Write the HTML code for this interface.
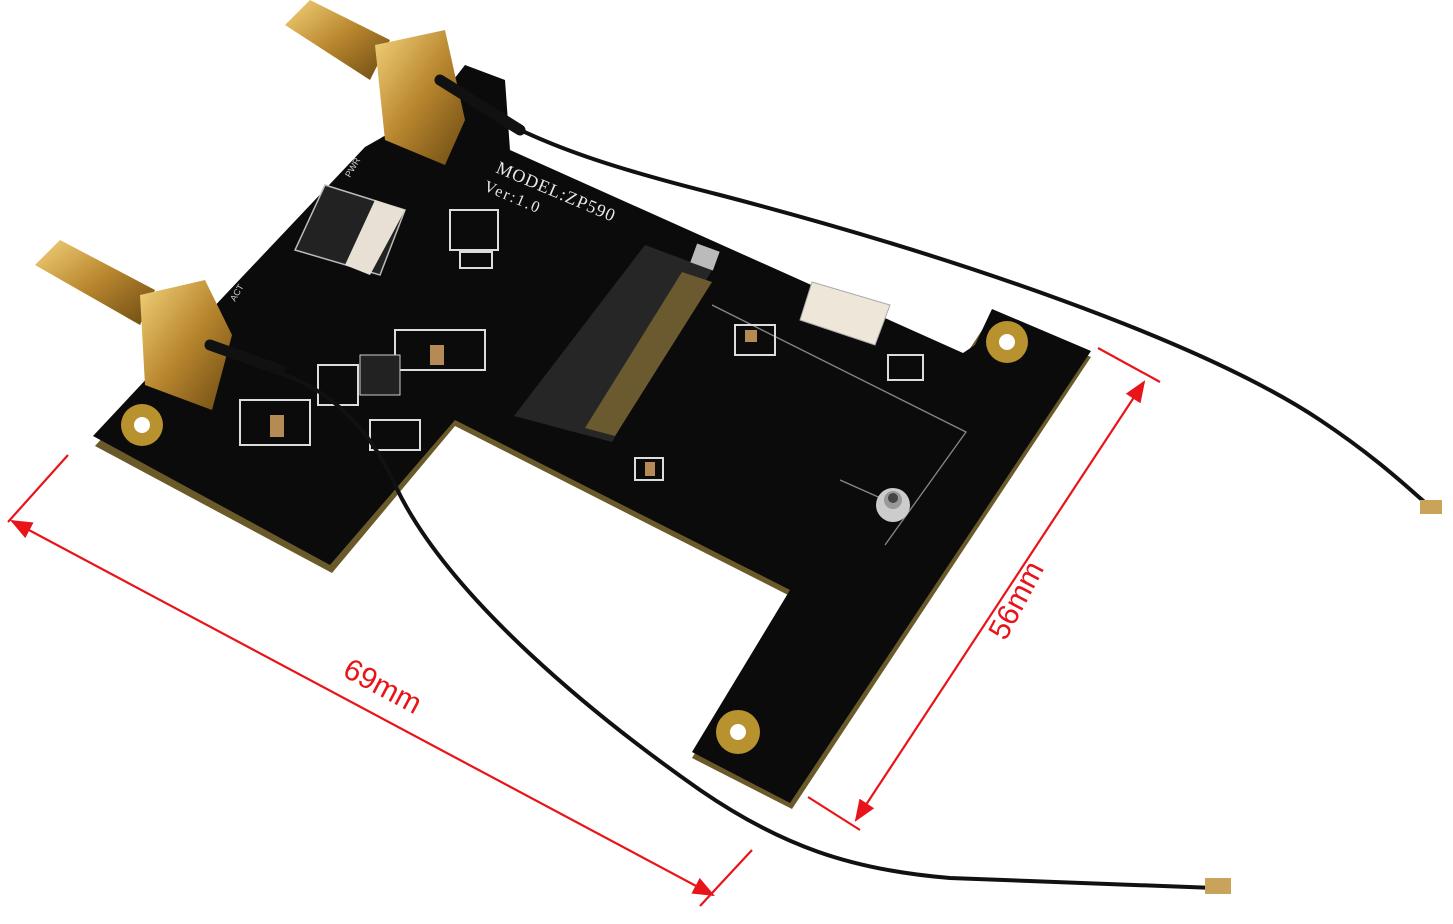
<!DOCTYPE html>
<html><head><meta charset="utf-8"><style>
html,body{margin:0;padding:0;background:#fff;width:1453px;height:924px;overflow:hidden}
</style></head><body>
<svg width="1453" height="924" viewBox="0 0 1453 924" xmlns="http://www.w3.org/2000/svg">
<defs>
<linearGradient id="g" x1="0" y1="0" x2="1" y2="1"><stop offset="0" stop-color="#f3d27a"/><stop offset="0.5" stop-color="#b8862e"/><stop offset="1" stop-color="#6b4a12"/></linearGradient>
<marker id="ar" viewBox="0 0 10 10" refX="9" refY="5" markerWidth="10" markerHeight="10" orient="auto-start-reverse"><path d="M0,1 L10,5 L0,9 z" fill="#e8141a"/></marker>
</defs>
<polygon points="95,446 225,301 365,153 430,116 510,156 950,361 965,356 992,315 1091,357 792,809 692,758 790,596 455,426 332,573" fill="#6a5a2a"/>
<polygon points="93,436 225,295 365,147 430,110 465,65 505,80 510,150 963,353 975,345 992,309 1091,351 790,803 692,752 790,590 455,420 330,565" fill="#0b0b0b"/>
<polygon points="645,245 712,270 612,442 514,416" fill="#262626"/>
<polygon points="682,272 712,282 615,436 585,428" fill="#6b5a30"/>
<rect x="693" y="247" width="24" height="20" fill="#bbb" transform="rotate(20 705 257)"/>
<polyline points="712,305 966,432 885,545" fill="none" stroke="#888" stroke-width="1.3"/>
<line x1="840" y1="480" x2="885" y2="500" stroke="#888" stroke-width="1.3"/>
<polygon points="325,185 405,210 380,275 295,250" fill="#222" stroke="#bbb" stroke-width="1.5"/>
<polygon points="375,200 405,210 370,275 345,265" fill="#e8e0d4"/>
<polygon points="812,282 890,305 875,345 800,320" fill="#efe6da" stroke="#aaa"/>
<circle cx="1007" cy="342" r="21" fill="#b8922e"/><circle cx="1007" cy="342" r="8" fill="#fff"/>
<circle cx="738" cy="732" r="22" fill="#b8922e"/><circle cx="738" cy="732" r="8" fill="#fff"/>
<circle cx="142" cy="425" r="21" fill="#b8922e"/><circle cx="142" cy="425" r="8" fill="#fff"/>
<circle cx="893" cy="505" r="17" fill="#ccc"/><circle cx="893" cy="500" r="9" fill="#999"/><circle cx="893" cy="498" r="5" fill="#444"/>
<g fill="none" stroke="#ddd" stroke-width="2">
<rect x="450" y="210" width="48" height="40"/><rect x="460" y="252" width="32" height="16"/>
<rect x="240" y="400" width="70" height="45"/><rect x="370" y="420" width="50" height="30"/>
<rect x="395" y="330" width="90" height="40"/><rect x="735" y="325" width="40" height="30"/>
<rect x="888" y="355" width="35" height="25"/><rect x="635" y="458" width="28" height="22"/>
<rect x="318" y="365" width="40" height="40"/>
</g>
<g fill="#b68a55"><rect x="270" y="415" width="14" height="22"/><rect x="430" y="345" width="14" height="20"/><rect x="645" y="462" width="10" height="14"/><rect x="745" y="330" width="12" height="12"/></g>
<rect x="360" y="355" width="40" height="40" fill="#222" stroke="#ccc"/>
<text x="495" y="172" fill="#e8e8e8" font-family="Liberation Serif,serif" font-size="18" letter-spacing="1" transform="rotate(23 495 172)">MODEL:ZP590</text>
<text x="483" y="190" fill="#e8e8e8" font-family="Liberation Serif,serif" font-size="16" letter-spacing="2" transform="rotate(23 483 190)">Ver:1.0</text>
<text x="350" y="178" fill="#ccc" font-family="Liberation Sans,sans-serif" font-size="9" transform="rotate(-60 350 178)">PWR</text>
<text x="235" y="302" fill="#ccc" font-family="Liberation Sans,sans-serif" font-size="9" transform="rotate(-60 235 302)">ACT</text>
<polygon points="285,25 310,0 390,40 370,80" fill="url(#g)"/>
<polygon points="375,45 445,30 465,120 445,165 385,140" fill="url(#g)"/>
<polygon points="35,265 60,240 155,290 140,325" fill="url(#g)"/>
<polygon points="140,295 205,280 232,335 212,410 145,385" fill="url(#g)"/>
<g fill="none" stroke="#111" stroke-linecap="round">
<path d="M440,80 L520,130" stroke-width="11"/>
<path d="M210,345 L280,370" stroke-width="11"/>
<path d="M510,125 C560,150 620,170 720,195 C950,255 1200,340 1320,420 C1380,460 1410,490 1428,505" stroke-width="4"/>
<path d="M270,370 C340,390 375,440 396,487 C450,600 600,720 700,790 C780,845 850,870 950,878 L1215,888" stroke-width="4"/>
</g>
<rect x="1420" y="500" width="22" height="14" fill="#c9a35a"/>
<rect x="1205" y="878" width="26" height="16" fill="#c9a35a"/>
<g stroke="#e8141a" stroke-width="2.2" fill="none">
<line x1="12" y1="521" x2="713" y2="895" marker-start="url(#ar)" marker-end="url(#ar)"/>
<line x1="68" y1="455" x2="8" y2="522"/>
<line x1="752" y1="850" x2="700" y2="906"/>
<line x1="856" y1="820" x2="1144" y2="382" marker-start="url(#ar)" marker-end="url(#ar)"/>
<line x1="1098" y1="348" x2="1160" y2="382"/>
<line x1="808" y1="797" x2="860" y2="830"/>
</g>
<text x="378" y="695" fill="#e8141a" font-family="Liberation Sans,sans-serif" font-size="30" text-anchor="middle" transform="rotate(28 378 695)">69mm</text>
<text x="1025" y="605" fill="#e8141a" font-family="Liberation Sans,sans-serif" font-size="30" text-anchor="middle" transform="rotate(-62 1025 605)">56mm</text>
</svg>
</body></html>
